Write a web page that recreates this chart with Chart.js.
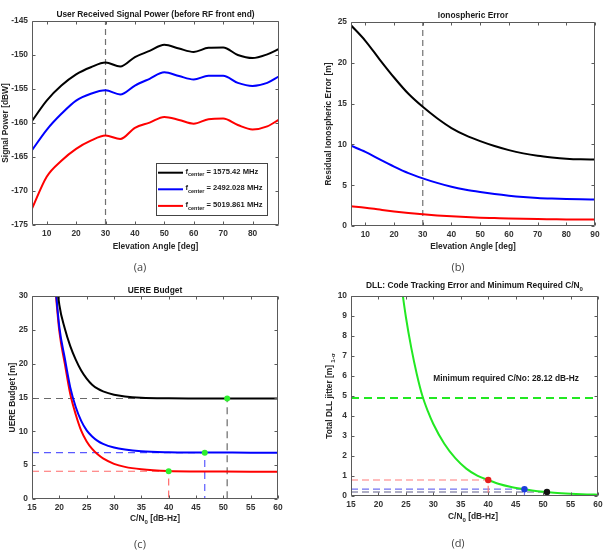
<!DOCTYPE html>
<html><head><meta charset="utf-8">
<script src="https://cdn.jsdelivr.net/npm/chart.js@4/dist/chart.umd.min.js"></script>
<style>
html,body{margin:0;padding:0;background:#fff;}
#wrap{position:relative;width:613px;height:551px;overflow:hidden;background:#fff;}
canvas{position:absolute;}
</style></head><body>
<div id="wrap">
<canvas id="ca" width="306" height="276" style="left:0;top:0;width:306px;height:276px"></canvas>
<canvas id="cb" width="307" height="276" style="left:306px;top:0;width:307px;height:276px"></canvas>
<canvas id="cc" width="306" height="275" style="left:0;top:276px;width:306px;height:275px"></canvas>
<canvas id="cd" width="307" height="275" style="left:306px;top:276px;width:307px;height:275px"></canvas>
</div>
<script>
// ---------- Panel (a): received signal power vs elevation ----------
const elevA = [5,10,15,20,25,30,35,40,45,50,55,60,65,70,75,80,85,89];
const powerL1 = [-159.7,-156.7,-154.5,-152.85,-151.8,-151.1,-151.7,-150.3,-149.4,-148.5,-149.05,-149.55,-148.95,-148.9,-150.0,-150.45,-149.9,-149.1];
const powerL2 = [-164.0,-161.0,-158.65,-156.7,-155.7,-155.2,-155.8,-154.5,-153.5,-152.55,-153.1,-153.6,-153.05,-153.05,-154.1,-154.55,-154.1,-153.15];
const powerL3 = [-172.6,-167.9,-165.55,-163.8,-162.6,-161.85,-162.35,-160.7,-159.95,-159.1,-159.55,-160.1,-159.45,-159.35,-160.3,-160.95,-160.5,-159.5];
const freqLabels = ['1575.42 MHz','2492.028 MHz','5019.861 MHz'];
const ticksAx = [10,20,30,40,50,60,70,80];
const ticksAy = [-175,-170,-165,-160,-155,-150,-145];
const markElev = 30;

// ---------- Panel (b): residual ionospheric error ----------
const elevB = [5,10,15,20,25,30,35,40,45,50,55,60,65,70,75,80,85,90];
const ionoL1 = [24.6,22.7,20.4,18.2,16.2,14.6,13.2,12.0,11.1,10.4,9.8,9.3,8.9,8.6,8.4,8.25,8.17,8.15];
const ionoL2 = [9.84,9.08,8.16,7.28,6.48,5.84,5.28,4.8,4.44,4.16,3.92,3.72,3.56,3.44,3.36,3.3,3.27,3.26];
const ionoL3 = [2.42,2.24,2.01,1.79,1.6,1.44,1.3,1.18,1.09,1.02,0.97,0.92,0.88,0.85,0.83,0.81,0.8,0.8];
const ticksBx = [10,20,30,40,50,60,70,80,90];
const ticksBy = [0,5,10,15,20,25];

// ---------- Panel (c): UERE budget vs C/N0 ----------
const cn0C = [19,20,21,22,23,24,25,26,27,28,30,32,35,40,45,50,55,60];
const uereL1 = [36,28.7,25.2,22.6,20.6,19.0,17.8,16.9,16.3,15.9,15.4,15.15,14.97,14.88,14.86,14.85,14.85,14.85];
const uereL2 = [34.2,25.4,20.8,16.5,13.6,11.55,10.15,9.25,8.6,8.15,7.6,7.3,7.05,6.91,6.87,6.86,6.85,6.85];
const uereL3 = [33.7,24.8,20.0,15.5,12.5,10.1,8.5,7.4,6.6,6.0,5.2,4.75,4.4,4.14,4.07,4.05,4.04,4.04];
const refCn0 = [40, 46.6, 50.7];      // red, blue, black operating points
const refUERE = [4.1, 6.85, 14.85];
const ticksCx = [15,20,25,30,35,40,45,50,55,60];
const ticksCy = [0,5,10,15,20,25,30];

// ---------- Panel (d): DLL jitter ----------
const cn0D = [24,25,26,27,28,29,30,32,34,36,38,40,42,44,46,48,50,52,55,58,60];
const dllJitter = [10.9,8.95,7.38,6.08,5.01,4.24,3.6,2.61,1.89,1.37,1.02,0.8,0.6,0.46,0.36,0.28,0.215,0.165,0.115,0.08,0.065];
const refDLL = [0.8, 0.34, 0.2];
const minCn0 = 28.12;
const jitterThreshold = 4.9;
const minText = 'Minimum required C/No: 28.12 dB-Hz';
const ticksDx = [15,20,25,30,35,40,45,50,55,60];
const ticksDy = [0,1,2,3,4,5,6,7,8,9,10];

const FONT = '"Liberation Sans", Arial, sans-serif';
const FS = 8.4;
const C_BLACK = '#000000', C_BLUE = '#0000ff', C_RED = '#ff0000', C_GREEN = '#22e822';

function pts(xs, ys){ return xs.map((x,i)=>({x, y: ys[i]})); }

function richWidth(ctx, segs, size){
  let w = 0;
  for (const s of segs){ ctx.font = `${s.w||'bold'} ${s.sub?size*0.72:size}px ${FONT}`; w += ctx.measureText(s.t).width; }
  return w;
}
function drawRich(ctx, segs, x, y, size, align){
  const w = richWidth(ctx, segs, size);
  let cx = align === 'center' ? x - w/2 : x;
  ctx.textAlign = 'left'; ctx.textBaseline = 'middle';
  for (const s of segs){
    const sz = s.sub ? size*0.72 : size;
    ctx.font = `${s.w||'bold'} ${sz}px ${FONT}`;
    ctx.fillText(s.t, cx, y + (s.sub ? size*0.42 : 0));
    cx += ctx.measureText(s.t).width;
  }
}

const matlabPlugin = {
  id: 'matlab',
  afterDraw(chart, args, o){
    const ctx = chart.ctx, a = chart.chartArea, sx = chart.scales.x, sy = chart.scales.y;
    ctx.save();
    const L = Math.round(a.left)+0.5, R = Math.round(a.right)-0.5, T = Math.round(a.top)+0.5, B = Math.round(a.bottom)-0.5;
    ctx.strokeStyle = '#5a5a5a'; ctx.lineWidth = 1;
    ctx.beginPath();
    ctx.rect(L, T, R-L, B-T);
    const tl = 3;
    sx.ticks.forEach(t => {
      const x = Math.round(sx.getPixelForValue(t.value))+0.5;
      ctx.moveTo(x, B); ctx.lineTo(x, B-tl);
      ctx.moveTo(x, T); ctx.lineTo(x, T+tl);
    });
    sy.ticks.forEach(t => {
      const y = Math.round(sy.getPixelForValue(t.value))+0.5;
      ctx.moveTo(L, y); ctx.lineTo(L+tl, y);
      ctx.moveTo(R, y); ctx.lineTo(R-tl, y);
    });
    ctx.stroke();
    const cxm = (a.left + a.right)/2, cym = (a.top + a.bottom)/2;
    ctx.fillStyle = '#1a1a1a';
    drawRich(ctx, o.title, cxm, a.top + o.titleDy, FS, 'center');
    ctx.fillStyle = '#262626';
    drawRich(ctx, o.xlabel, cxm + (o.xlabelDx||0), a.bottom + o.xlabelDy, FS, 'center');
    ctx.save();
    ctx.translate(a.left + o.ylabelDx, cym);
    ctx.rotate(-Math.PI/2);
    drawRich(ctx, o.ylabel, 0, 0, FS, 'center');
    ctx.restore();
    // caption
    ctx.fillStyle = '#444';
    ctx.font = `11px "Open Sans", "DejaVu Sans", sans-serif`;
    ctx.textAlign = 'center'; ctx.textBaseline = 'middle';
    ctx.fillText(o.caption[0], o.caption[1], o.caption[2]);
    // optional legend
    if (o.legend){
      const lg = o.legend;
      ctx.fillStyle = '#fff'; ctx.fillRect(lg.x, lg.y, lg.w, lg.h);
      ctx.strokeStyle = '#444'; ctx.lineWidth = 1;
      ctx.strokeRect(lg.x+0.5, lg.y+0.5, lg.w, lg.h);
      lg.items.forEach((it, i) => {
        const yy = lg.y + 9.7 + i*16.6;
        ctx.strokeStyle = it.color; ctx.lineWidth = 2;
        ctx.beginPath(); ctx.moveTo(lg.x+2, yy); ctx.lineTo(lg.x+27, yy); ctx.stroke();
        ctx.fillStyle = '#1a1a1a';
        drawRich(ctx, [{t:'f'},{t:'center',sub:true},{t:' = ' + it.label}], lg.x+29.5, yy-1, 7.6, 'left');
      });
    }
    // optional annotation text
    if (o.note){
      ctx.fillStyle = '#1a1a1a';
      ctx.font = `bold 8.3px ${FONT}`;
      ctx.textAlign = 'left'; ctx.textBaseline = 'middle';
      ctx.fillText(o.note.text, sx.getPixelForValue(o.note.x), sy.getPixelForValue(o.note.y));
    }
    ctx.restore();
  }
};

function makeOpts(c){
  const tickFont = {family: FONT, size: FS, weight: 'bold'};
  return {
    responsive: false, animation: false, devicePixelRatio: 1,
    layout: {padding: c.pad},
    plugins: {legend: {display: false}, tooltip: {enabled: false}, matlab: c.m},
    elements: {point: {radius: 0}, line: {tension: 0}},
    scales: {
      x: {type: 'linear', min: c.xmin, max: c.xmax,
        afterBuildTicks: s => { s.ticks = c.xticks.map(v => ({value: v})); },
        afterFit: s => { s.height = c.xh; },
        grid: {display: false, drawTicks: false}, border: {display: false},
        ticks: {padding: 4, font: tickFont, color: '#333', maxRotation: 0, autoSkip: false}},
      y: {type: 'linear', min: c.ymin, max: c.ymax,
        afterBuildTicks: s => { s.ticks = c.yticks.map(v => ({value: v})); },
        afterFit: s => { s.width = c.yw; },
        grid: {display: false, drawTicks: false}, border: {display: false},
        ticks: {padding: 4, font: tickFont, color: '#333', autoSkip: false}}
    }
  };
}
function curve(data, color, extra){
  return Object.assign({data, borderColor: color, borderWidth: 2, pointRadius: 0, fill: false,
    cubicInterpolationMode: 'monotone'}, extra||{});
}
function dashed(data, color, dash, width){
  return {data, borderColor: color, borderWidth: width||1, borderDash: dash, pointRadius: 0, fill: false, tension: 0};
}
function dots(data, color, r){
  return {data, showLine: false, pointRadius: r, pointBackgroundColor: color, pointBorderColor: color, pointBorderWidth: 0};
}

// ---------- chart (a) ----------
new Chart(document.getElementById('ca'), {
  type: 'line',
  data: {datasets: [
    curve(pts(elevA, powerL1), C_BLACK),
    curve(pts(elevA, powerL2), C_BLUE),
    curve(pts(elevA, powerL3), C_RED),
    dashed([{x: markElev, y: -175}, {x: markElev, y: -145}], '#707070', [6,4], 1.2)
  ]},
  options: makeOpts({
    pad: {left: 4, right: 27, top: 21, bottom: 31}, xh: 20, yw: 28,
    xmin: 5, xmax: 89, ymin: -175, ymax: -145, xticks: ticksAx, yticks: ticksAy,
    m: {title: [{t: 'User Received Signal Power (before RF front end)'}], titleDy: -6,
        xlabel: [{t: 'Elevation Angle [deg]'}], xlabelDy: 21.7,
        ylabel: [{t: 'Signal Power [dBW]'}], ylabelDx: -26,
        caption: ['(a)', 140, 268],
        legend: {x: 156, y: 163, w: 111, h: 52, items: [
          {color: C_BLACK, label: freqLabels[0]},
          {color: C_BLUE, label: freqLabels[1]},
          {color: C_RED, label: freqLabels[2]}]}}
  }),
  plugins: [matlabPlugin]
});

// ---------- chart (b) ----------
new Chart(document.getElementById('cb'), {
  type: 'line',
  data: {datasets: [
    curve(pts(elevB, ionoL1), C_BLACK),
    curve(pts(elevB, ionoL2), C_BLUE),
    curve(pts(elevB, ionoL3), C_RED),
    dashed([{x: markElev, y: 0}, {x: markElev, y: 25}], '#707070', [6,4], 1.2)
  ]},
  options: makeOpts({
    pad: {left: 5, right: 18, top: 22, bottom: 30}, xh: 20, yw: 40,
    xmin: 5, xmax: 90, ymin: 0, ymax: 25, xticks: ticksBx, yticks: ticksBy,
    m: {title: [{t: 'Ionospheric Error'}], titleDy: -6.5,
        xlabel: [{t: 'Elevation Angle [deg]'}], xlabelDy: 20.7,
        ylabel: [{t: 'Residual Ionospheric Error [m]'}], ylabelDx: -22,
        caption: ['(b)', 152, 268]}
  }),
  plugins: [matlabPlugin]
});

// ---------- chart (c) ----------
const greenDot = '#2ef02e';
new Chart(document.getElementById('cc'), {
  type: 'line',
  data: {datasets: [
    dots(refCn0.map((x,i)=>({x, y: refUERE[i]})), greenDot, 3),
    curve(pts(cn0C, uereL1), C_BLACK),
    curve(pts(cn0C, uereL2), C_BLUE),
    curve(pts(cn0C, uereL3), C_RED),
    dashed([{x:15,y:refUERE[2]},{x:refCn0[2],y:refUERE[2]},{x:refCn0[2],y:0}], '#6a6a6a', [7,5], 1.2),
    dashed([{x:15,y:refUERE[1]},{x:refCn0[1],y:refUERE[1]},{x:refCn0[1],y:0}], '#5a5aff', [7,5], 1.2),
    dashed([{x:15,y:refUERE[0]},{x:refCn0[0],y:refUERE[0]},{x:refCn0[0],y:0}], '#ff6a6a', [7,5], 1.2)
  ]},
  options: makeOpts({
    pad: {left: 4, right: 28, top: 20, bottom: 32}, xh: 20, yw: 28,
    xmin: 15, xmax: 60, ymin: 0, ymax: 30, xticks: ticksCx, yticks: ticksCy,
    m: {title: [{t: 'UERE Budget'}], titleDy: -5.5,
        xlabel: [{t: 'C/N'}, {t: '0', sub: true}, {t: ' [dB-Hz]'}], xlabelDy: 19.5,
        ylabel: [{t: 'UERE Budget [m]'}], ylabelDx: -19,
        caption: ['(c)', 140, 269]}
  }),
  plugins: [matlabPlugin]
});

// ---------- chart (d) ----------
new Chart(document.getElementById('cd'), {
  type: 'line',
  data: {datasets: [
    dots([{x: refCn0[0], y: refDLL[0]}], '#e61e1e', 3.2),
    dots([{x: refCn0[1], y: refDLL[1]}], '#1c3cdc', 3.2),
    dots([{x: refCn0[2], y: refDLL[2]}], '#111111', 3.2),
    curve(pts(cn0D, dllJitter), C_GREEN),
    dashed([{x:15,y:jitterThreshold},{x:60,y:jitterThreshold}], C_GREEN, [8,5], 2),
    dashed([{x:15,y:refDLL[0]},{x:refCn0[0],y:refDLL[0]},{x:refCn0[0],y:0}], '#ff7a7a', [7,4], 1.2),
    dashed([{x:15,y:refDLL[1]},{x:refCn0[1],y:refDLL[1]},{x:refCn0[1],y:0}], '#7070f0', [7,4], 1.2),
    dashed([{x:15,y:refDLL[2]},{x:refCn0[2],y:refDLL[2]},{x:refCn0[2],y:0}], '#5c5c88', [7,4], 1.2)
  ]},
  options: makeOpts({
    pad: {left: 5, right: 15, top: 20, bottom: 35}, xh: 20, yw: 40,
    xmin: 15, xmax: 60, ymin: 0, ymax: 10, xticks: ticksDx, yticks: ticksDy,
    m: {title: [{t: 'DLL: Code Tracking Error and Minimum Required C/N'}, {t: '0', sub: true}], titleDy: -10,
        xlabel: [{t: 'C/N'}, {t: '0', sub: true}, {t: ' [dB-Hz]'}], xlabelDy: 21, xlabelDx: -1.5,
        ylabel: [{t: 'Total DLL jitter [m] '}, {t: '1-\u03c3', sub: true}], ylabelDx: -21.5,
        caption: ['(d)', 152, 268],
        note: {text: minText, x: 30, y: 5.85}}
  }),
  plugins: [matlabPlugin]
});
</script>
</body></html>
